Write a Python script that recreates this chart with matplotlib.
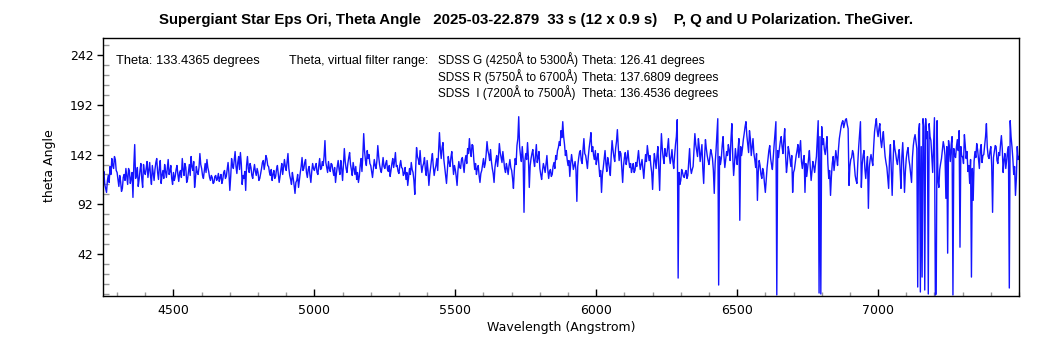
import numpy as np
import matplotlib
matplotlib.use("Agg")
import matplotlib.pyplot as plt
from matplotlib.ticker import MultipleLocator, FixedLocator

# Wavelength grid (Angstrom): 4250 .. 7500, step 3.125
wl_start, wl_step = 4250.0, 3.125

# Theta angle values (degrees), per 250 A segment
theta_4250 = [118, 125, 112, 108, 104, 116, 121, 114, 130, 122, 138, 131, 128, 140, 137, 126, 124, 117, 110, 121,
              115, 105, 108, 119, 122, 116, 128, 120, 112, 128, 125, 113, 118, 124, 99, 131, 152, 118, 121, 129,
              110, 117, 126, 133, 118, 109, 132, 125, 122, 128, 135, 119, 127, 134, 120, 112, 131, 123, 116, 127,
              134, 138, 124, 117, 129, 136, 113, 121, 126, 118, 132, 125, 119, 128, 137, 122, 125, 131, 118, 112]
theta_4500 = [124, 116, 120, 127, 131, 122, 115, 124, 126, 119, 138, 127, 121, 133, 129, 114, 117, 125, 132, 121,
              140, 130, 126, 135, 109, 118, 130, 124, 122, 129, 143, 132, 128, 121, 118, 126, 133, 124, 137, 129,
              125, 119, 116, 121, 119, 113, 114, 120, 121, 116, 118, 123, 115, 119, 122, 113, 117, 124, 126, 118,
              120, 127, 134, 123, 106, 120, 138, 131, 128, 136, 145, 130, 123, 134, 140, 127, 144, 133, 112, 121]
theta_4750 = [118, 125, 106, 131, 140, 128, 124, 133, 129, 121, 118, 126, 132, 125, 121, 128, 124, 116, 118, 123,
              128, 134, 136, 127, 133, 141, 138, 131, 130, 124, 121, 127, 116, 122, 126, 118, 120, 127, 131, 123,
              114, 120, 127, 133, 122, 129, 137, 130, 126, 135, 143, 128, 121, 117, 112, 124, 118, 111, 103, 114,
              116, 122, 109, 117, 124, 130, 139, 126, 128, 134, 137, 124, 119, 127, 130, 121, 114, 125, 133, 128]
theta_5000 = [126, 130, 133, 124, 122, 131, 138, 127, 128, 135, 131, 140, 156, 134, 129, 124, 135, 128, 125, 133,
              132, 126, 121, 129, 114, 123, 130, 136, 127, 122, 136, 128, 116, 133, 148, 135, 128, 124, 133, 139,
              144, 132, 127, 121, 134, 128, 122, 130, 117, 124, 114, 120, 131, 138, 125, 141, 163, 145, 136, 131,
              146, 138, 142, 133, 131, 125, 119, 128, 137, 131, 128, 136, 151, 140, 132, 127, 124, 131, 139, 130]
theta_5250 = [128, 133, 136, 127, 125, 131, 120, 126, 133, 138, 129, 135, 144, 130, 131, 125, 123, 131, 136, 129,
              128, 121, 123, 129, 117, 124, 111, 120, 128, 122, 134, 127, 124, 116, 102, 128, 149, 140, 137, 132,
              146, 133, 124, 130, 133, 139, 127, 121, 136, 126, 111, 122, 129, 137, 143, 130, 121, 127, 131, 138,
              126, 145, 164, 147, 138, 149, 154, 137, 129, 121, 113, 126, 140, 134, 130, 139, 145, 133, 122, 131]
theta_5500 = [127, 120, 111, 126, 135, 129, 128, 137, 139, 131, 124, 136, 141, 133, 148, 143, 158, 146, 140, 152,
              151, 137, 127, 133, 122, 128, 131, 121, 114, 123, 126, 132, 138, 129, 133, 142, 155, 146, 142, 136,
              147, 135, 128, 123, 114, 129, 136, 141, 130, 139, 153, 144, 139, 134, 145, 137, 128, 124, 133, 128,
              122, 131, 137, 129, 126, 118, 108, 126, 138, 132, 151, 158, 180, 150, 141, 135, 150, 138, 84, 136]
theta_5750 = [143, 137, 154, 139, 109, 131, 138, 143, 147, 136, 130, 141, 152, 134, 139, 145, 128, 122, 117, 126,
              133, 129, 124, 132, 141, 127, 118, 125, 127, 120, 122, 130, 134, 128, 141, 137, 146, 149, 155, 151,
              166, 159, 175, 160, 152, 141, 146, 137, 131, 136, 120, 133, 142, 135, 127, 131, 135, 126, 95, 130,
              138, 144, 146, 136, 133, 147, 158, 143, 141, 135, 128, 140, 149, 156, 164, 145, 150, 141, 137, 146]
theta_6000 = [132, 138, 143, 131, 120, 126, 104, 122, 129, 137, 146, 133, 125, 139, 134, 128, 121, 141, 156, 147,
              140, 135, 148, 155, 167, 150, 136, 145, 143, 128, 114, 131, 139, 144, 132, 138, 146, 136, 129, 133,
              124, 128, 133, 124, 126, 134, 130, 138, 146, 135, 127, 132, 137, 128, 118, 131, 142, 135, 151, 143,
              136, 141, 131, 124, 107, 129, 143, 136, 128, 141, 150, 127, 106, 139, 163, 148, 139, 133, 148, 141]
theta_6250 = [140, 149, 158, 141, 133, 139, 147, 135, 128, 141, 152, 160, 177, 18, 124, 112, 116, 127, 124, 120,
              119, 124, 126, 118, 121, 135, 148, 129, 123, 127, 130, 147, 163, 152, 146, 140, 158, 149, 135, 144,
              152, 128, 113, 139, 157, 148, 141, 136, 132, 140, 147, 143, 138, 126, 103, 133, 146, 162, 178, 11,
              140, 132, 138, 151, 160, 141, 129, 137, 145, 141, 152, 146, 136, 158, 173, 140, 121, 133, 148, 139]
theta_6500 = [132, 147, 158, 76, 150, 141, 148, 157, 163, 170, 175, 161, 152, 144, 166, 158, 141, 150, 158, 143,
              137, 129, 143, 96, 125, 136, 131, 122, 118, 128, 124, 113, 104, 117, 129, 137, 146, 151, 138, 132,
              127, 140, 152, 164, 175, 1, 146, 139, 148, 155, 160, 150, 143, 157, 168, 141, 124, 133, 150, 145,
              137, 130, 141, 104, 124, 127, 134, 141, 146, 152, 139, 148, 156, 135, 128, 136, 141, 104, 133, 120]
theta_6750 = [128, 137, 146, 129, 116, 125, 135, 130, 124, 133, 140, 158, 176, 3, 160, 2, 170, 152, 158, 147,
              142, 150, 160, 133, 118, 126, 101, 120, 133, 140, 126, 135, 146, 139, 131, 147, 158, 164, 170, 174,
              176, 169, 173, 177, 178, 172, 168, 111, 130, 137, 139, 146, 143, 132, 121, 116, 113, 134, 150, 163,
              175, 109, 132, 141, 146, 128, 118, 131, 140, 88, 129, 137, 142, 136, 131, 150, 165, 172, 178, 166]
theta_7000 = [160, 168, 173, 156, 149, 158, 165, 151, 140, 134, 129, 118, 108, 139, 152, 127, 101, 133, 156, 148,
              143, 136, 132, 141, 147, 126, 108, 140, 154, 131, 104, 125, 138, 145, 149, 137, 131, 122, 114, 139,
              151, 158, 162, 155, 148, 9, 165, 173, 4, 150, 19, 178, 170, 6, 178, 158, 165, 2, 173, 160,
              156, 140, 124, 150, 179, 1, 2, 176, 116, 109, 127, 133, 138, 147, 155, 150, 141, 98, 150, 43]
theta_7250 = [156, 148, 135, 152, 160, 1, 148, 141, 139, 150, 157, 146, 166, 49, 150, 140, 140, 133, 162, 151,
              138, 145, 125, 131, 113, 137, 19, 128, 96, 135, 145, 139, 153, 147, 138, 128, 146, 152, 134, 141,
              142, 151, 160, 173, 149, 140, 138, 145, 150, 131, 84, 139, 145, 151, 150, 136, 133, 144, 141, 152,
              161, 148, 124, 137, 143, 128, 137, 145, 150, 8, 176, 160, 150, 138, 122, 130, 101, 118, 150, 137,
              140]

theta = np.array(theta_4250 + theta_4500 + theta_4750 + theta_5000 + theta_5250 + theta_5500 +
                 theta_5750 + theta_6000 + theta_6250 + theta_6500 + theta_6750 + theta_7000 + theta_7250,
                 dtype=float)
wavelength = wl_start + wl_step * np.arange(len(theta))

title = ("Supergiant Star Eps Ori, Theta Angle   2025-03-22.879  33 s (12 x 0.9 s)    "
         "P, Q and U Polarization. TheGiver.")
overall_text = "Theta: 133.4365 degrees"
filter_header = "Theta, virtual filter range:"
filter_names = ["SDSS G (4250\u00c5 to 5300\u00c5)", "SDSS R (5750\u00c5 to 6700\u00c5)",
                "SDSS  I (7200\u00c5 to 7500\u00c5)"]
filter_thetas = ["Theta: 126.41 degrees", "Theta: 137.6809 degrees", "Theta: 136.4536 degrees"]
x_ticks = [4500, 5000, 5500, 6000, 6500, 7000]
y_ticks = [42, 92, 142, 192, 242]

W, H = 1050, 350
fig = plt.figure(figsize=(W / 100, H / 100), dpi=100)
ax = fig.add_axes([103 / W, 1 - 296 / H, (1019 - 103) / W, (296 - 38) / H])
ax.plot(wavelength, theta, color="#1414ff", lw=1.0)
ax.set_xlim(4250, 7500)
ax.set_ylim(0, 259)

ax.xaxis.set_major_locator(FixedLocator(x_ticks))
ax.xaxis.set_minor_locator(MultipleLocator(100))
ax.yaxis.set_major_locator(FixedLocator(y_ticks))
ax.yaxis.set_minor_locator(FixedLocator([v for v in range(2, 259, 10) if (v - 42) % 50 != 0]))
ax.tick_params(axis="x", which="major", direction="in", length=5, width=1, color="black",
               labelsize=9, pad=6)
ax.tick_params(axis="x", which="minor", direction="in", length=3, width=1, color="#999999")
ax.tick_params(axis="y", which="major", direction="out", length=4, width=1, color="black",
               labelsize=9, pad=3)
ax.tick_params(axis="y", which="minor", direction="in", length=4, width=1, color="#999999")
for s in ax.spines.values():
    s.set_linewidth(1.0)
    s.set_color("black")

fig.text(536 / W, 1 - 20 / H, title, ha="center", va="center", fontsize=10.8, fontweight="bold",
         family="Liberation Sans")
fig.text(561 / W, 1 - 327 / H, "Wavelength (Angstrom)", ha="center", va="center", fontsize=9)
fig.text(50 / W, 1 - 166 / H, "theta Angle", ha="center", va="center", rotation=90, fontsize=9)

tk = dict(va="baseline", ha="left", family="Liberation Sans")
fig.text(116 / W, 1 - 64 / H, overall_text, fontsize=9.3, **tk)
fig.text(289 / W, 1 - 64 / H, filter_header, fontsize=9, **tk)
for k, (nm, th) in enumerate(zip(filter_names, filter_thetas)):
    yy = 64 + k * 16.5
    fig.text(438 / W, 1 - yy / H, nm, fontsize=8.5, **tk)
    fig.text(582 / W, 1 - yy / H, th, fontsize=8.8, **tk)

fig.savefig("out.png", dpi=100)
